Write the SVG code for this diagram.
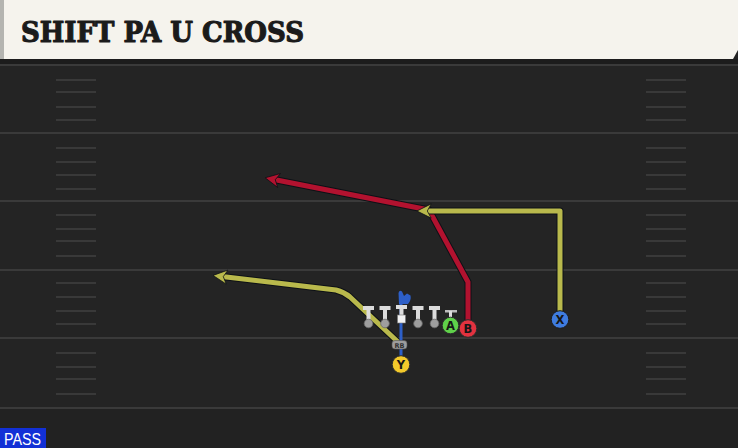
<svg xmlns="http://www.w3.org/2000/svg" width="738" height="448" viewBox="0 0 738 448">
<defs>
<style>
.yard{stroke:#3a3a3a;stroke-width:2}
.hash{stroke:#393939;stroke-width:2}
.outline{fill:none;stroke:#0d1116;stroke-width:7;stroke-linejoin:round}
.red{fill:none;stroke:#b2122f;stroke-width:5;stroke-linejoin:round}
.yel{fill:none;stroke:#b9b94c;stroke-width:5;stroke-linejoin:round}
.blu{fill:none;stroke:#2d5fc8;stroke-width:3}
.lbl{font-family:"DejaVu Sans","Liberation Sans",sans-serif;font-weight:bold;font-size:11.5px;fill:#161616;text-anchor:middle}
.ol-bar{fill:#dcdcdc}
.ol-dot{fill:#9e9e9e;stroke:#6a6a6a;stroke-width:0.8}
</style>
<marker id="arR" viewBox="0 0 12 12" refX="5" refY="6" markerWidth="3.1" markerHeight="3.1" orient="auto" markerUnits="strokeWidth">
<path d="M12,6 L1,0.5 L4,6 L1,11.5 Z" fill="#b2122f" stroke="#0d1116" stroke-width="0.6" stroke-linejoin="round"/>
</marker>
<marker id="arY" viewBox="0 0 12 12" refX="5" refY="6" markerWidth="3.1" markerHeight="3.1" orient="auto" markerUnits="strokeWidth">
<path d="M12,6 L1,0.5 L4,6 L1,11.5 Z" fill="#b9b94c" stroke="#0d1116" stroke-width="0.6" stroke-linejoin="round"/>
</marker>
</defs>

<rect x="0" y="0" width="738" height="448" fill="#222222"/>
<rect x="0" y="65" width="738" height="343" fill="#242424"/>
<rect x="0" y="59" width="738" height="6" fill="#1c1c1c"/>

<g id="field">
<line class="yard" x1="0" y1="65" x2="738" y2="65"/>
<line class="yard" x1="0" y1="133" x2="738" y2="133"/>
<line class="yard" x1="0" y1="201" x2="738" y2="201"/>
<line class="yard" x1="0" y1="270" x2="738" y2="270"/>
<line class="yard" x1="0" y1="338" x2="738" y2="338"/>
<line class="yard" x1="0" y1="408" x2="738" y2="408"/>
<g id="hash-left">
<line class="hash" x1="56" y1="80" x2="96" y2="80"/>
<line class="hash" x1="56" y1="92" x2="96" y2="92"/>
<line class="hash" x1="56" y1="107" x2="96" y2="107"/>
<line class="hash" x1="56" y1="120" x2="96" y2="120"/>
<line class="hash" x1="56" y1="148" x2="96" y2="148"/>
<line class="hash" x1="56" y1="162" x2="96" y2="162"/>
<line class="hash" x1="56" y1="175" x2="96" y2="175"/>
<line class="hash" x1="56" y1="189" x2="96" y2="189"/>
<line class="hash" x1="56" y1="215" x2="96" y2="215"/>
<line class="hash" x1="56" y1="229" x2="96" y2="229"/>
<line class="hash" x1="56" y1="241" x2="96" y2="241"/>
<line class="hash" x1="56" y1="256" x2="96" y2="256"/>
<line class="hash" x1="56" y1="283" x2="96" y2="283"/>
<line class="hash" x1="56" y1="297" x2="96" y2="297"/>
<line class="hash" x1="56" y1="311" x2="96" y2="311"/>
<line class="hash" x1="56" y1="324" x2="96" y2="324"/>
<line class="hash" x1="56" y1="353" x2="96" y2="353"/>
<line class="hash" x1="56" y1="367" x2="96" y2="367"/>
<line class="hash" x1="56" y1="379" x2="96" y2="379"/>
<line class="hash" x1="56" y1="394" x2="96" y2="394"/>
</g>
<g id="hash-right">
<line class="hash" x1="646" y1="80" x2="686" y2="80"/>
<line class="hash" x1="646" y1="92" x2="686" y2="92"/>
<line class="hash" x1="646" y1="107" x2="686" y2="107"/>
<line class="hash" x1="646" y1="120" x2="686" y2="120"/>
<line class="hash" x1="646" y1="148" x2="686" y2="148"/>
<line class="hash" x1="646" y1="162" x2="686" y2="162"/>
<line class="hash" x1="646" y1="175" x2="686" y2="175"/>
<line class="hash" x1="646" y1="189" x2="686" y2="189"/>
<line class="hash" x1="646" y1="215" x2="686" y2="215"/>
<line class="hash" x1="646" y1="229" x2="686" y2="229"/>
<line class="hash" x1="646" y1="241" x2="686" y2="241"/>
<line class="hash" x1="646" y1="256" x2="686" y2="256"/>
<line class="hash" x1="646" y1="283" x2="686" y2="283"/>
<line class="hash" x1="646" y1="297" x2="686" y2="297"/>
<line class="hash" x1="646" y1="311" x2="686" y2="311"/>
<line class="hash" x1="646" y1="324" x2="686" y2="324"/>
<line class="hash" x1="646" y1="353" x2="686" y2="353"/>
<line class="hash" x1="646" y1="367" x2="686" y2="367"/>
<line class="hash" x1="646" y1="379" x2="686" y2="379"/>
<line class="hash" x1="646" y1="394" x2="686" y2="394"/>
</g>
</g>

<g id="header">
<path d="M0,0 H738 V50 L733,59 H0 Z" fill="#f5f3ed"/>
<rect x="0" y="0" width="4" height="59" fill="#b4b4b0"/>
<text x="21" y="42" font-family="'DejaVu Serif','Liberation Serif',serif" font-weight="900" font-size="27" fill="#1b1b1b" stroke="#1b1b1b" stroke-width="1.1" stroke-linejoin="round" textLength="283" lengthAdjust="spacingAndGlyphs">SHIFT PA U CROSS</text>
</g>

<g id="connectors">
<path class="outline" d="M468,330 L468,282 L429,210 L274,179.5"/>
<path class="red" d="M468,330 L468,282 L429,210 L274,179.5" marker-end="url(#arR)"/>
<path class="outline" d="M560,318 L560,211 L426,211"/>
<path class="yel" d="M560,318 L560,211 L426,211" marker-end="url(#arY)"/>
<path class="outline" d="M398,342 L350,297 Q344,292 336,290 L222,276.5"/>
<path class="yel" d="M398,342 L350,297 Q344,292 336,290 L222,276.5" marker-end="url(#arY)"/>
<line class="blu" x1="401" y1="358" x2="401" y2="300"/>
<path d="M399,304 L398.5,293 Q399.5,289.5 402,291.5 L404,296 L407,293.5 L410.5,295.5 Q411.5,300 408,304 Z" fill="#2d5fc8"/>
</g>

<g id="line-LT">
<rect class="ol-bar" x="363" y="306" width="11" height="4"/>
<rect class="ol-bar" x="366.5" y="309" width="4" height="12"/>
<circle class="ol-dot" cx="368.5" cy="323.5" r="4.3"/>
</g>
<g id="line-LG">
<rect class="ol-bar" x="379.5" y="306" width="11" height="4"/>
<rect class="ol-bar" x="383" y="309" width="4" height="12"/>
<circle class="ol-dot" cx="385" cy="323.5" r="4.3"/>
</g>
<g id="line-C">
<rect class="ol-bar" x="396" y="305" width="11" height="4"/>
<rect class="ol-bar" x="399.5" y="308" width="4" height="8"/>
<rect x="397.5" y="315" width="8" height="8" fill="#f2f2f2" stroke="#777" stroke-width="0.6"/>
</g>
<g id="line-RG">
<rect class="ol-bar" x="412.5" y="306" width="11" height="4"/>
<rect class="ol-bar" x="416" y="309" width="4" height="12"/>
<circle class="ol-dot" cx="418" cy="323.5" r="4.3"/>
</g>
<g id="line-RT">
<rect class="ol-bar" x="429" y="306" width="11" height="4"/>
<rect class="ol-bar" x="432.5" y="309" width="4" height="12"/>
<circle class="ol-dot" cx="434.5" cy="323.5" r="4.3"/>
</g>

<g id="player-A">
<rect x="445" y="310" width="12" height="2.5" fill="#bbbbbb"/>
<rect class="ol-bar" x="449" y="311" width="3" height="7"/>
<circle cx="450.5" cy="325.5" r="8.3" fill="#5fd04a" stroke="#2c2c2c" stroke-width="1"/>
<text class="lbl" x="450.5" y="329.6">A</text>
</g>
<g id="player-B">
<circle cx="468" cy="328.5" r="8.8" fill="#e2323f" stroke="#2c2c2c" stroke-width="1"/>
<text class="lbl" x="468" y="332.6">B</text>
</g>
<g id="player-X">
<circle cx="560" cy="319.5" r="8.8" fill="#3f7ce0" stroke="#1c1c1c" stroke-width="1"/>
<text class="lbl" x="560" y="323.6">X</text>
</g>
<g id="player-RB">
<rect x="392" y="340.5" width="15" height="8.5" rx="3" fill="#9d9d9d" stroke="#555" stroke-width="0.6"/>
<text x="399.5" y="347.5" font-family="'DejaVu Sans','Liberation Sans',sans-serif" font-size="6.5" font-weight="bold" fill="#333" text-anchor="middle">RB</text>
</g>
<g id="player-Y">
<circle cx="401" cy="364.5" r="8.8" fill="#f3c92b" stroke="#2c2c2c" stroke-width="1"/>
<text class="lbl" x="401" y="368.6">Y</text>
</g>

<g id="tag-pass">
<rect x="0" y="428" width="46" height="20" fill="#1230d6"/>
<text x="4" y="445" font-family="'Liberation Sans','DejaVu Sans',sans-serif" font-size="16" fill="#ffffff" textLength="37" lengthAdjust="spacingAndGlyphs">PASS</text>
</g>
</svg>
